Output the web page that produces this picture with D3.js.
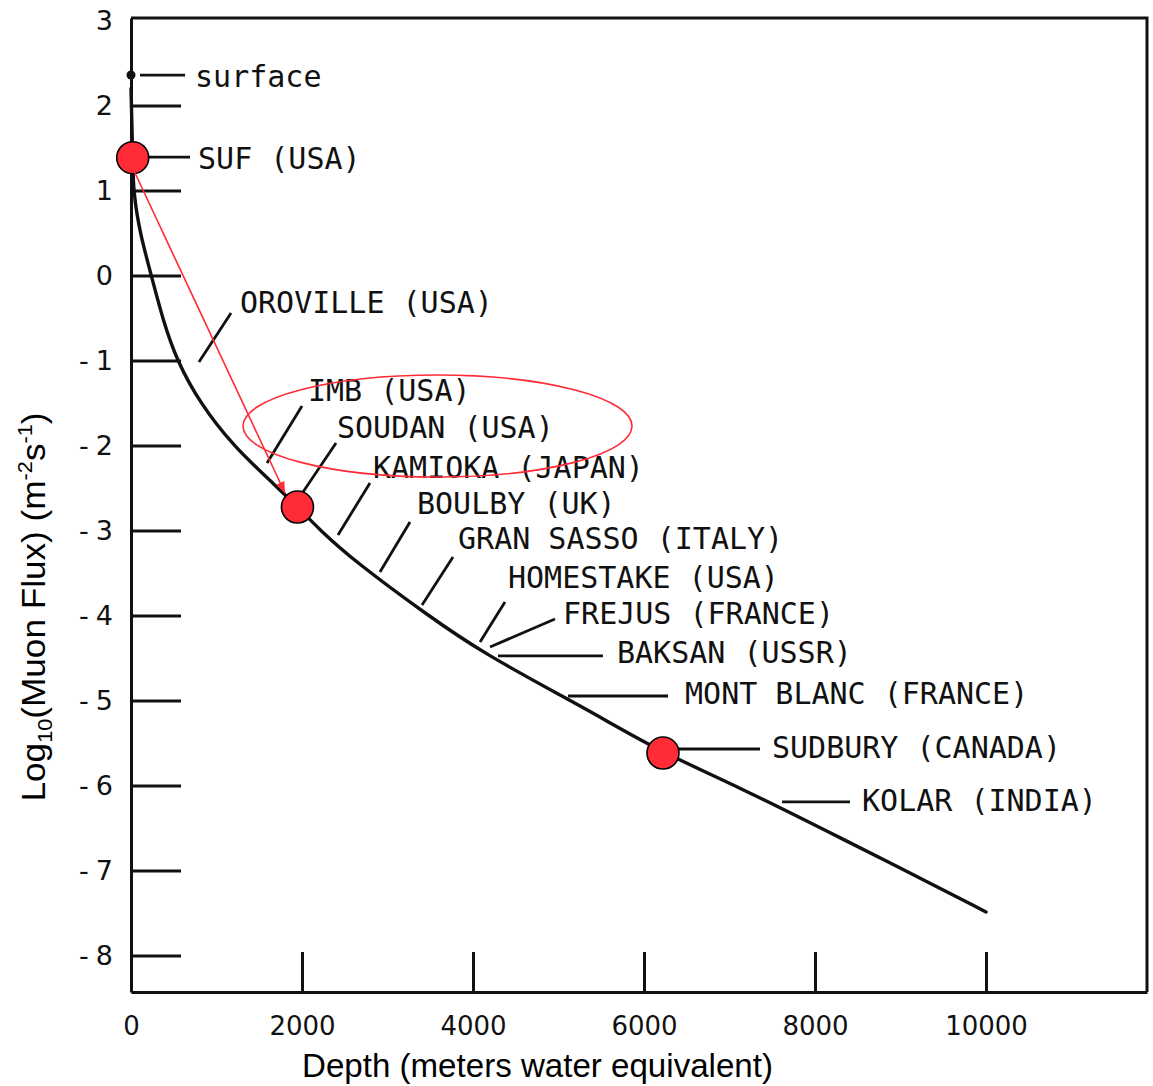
<!DOCTYPE html>
<html><head><meta charset="utf-8">
<script src="https://cdn.jsdelivr.net/npm/d3@7"></script>
<style>body{margin:0;background:#fff}</style>
</head><body>
<svg id="chart" width="1153" height="1086"></svg>
<script>
// ---- data (depth in metres water equivalent, log10 muon flux in m^-2 s^-1) ----
const curveDepth = [0, 10, 20, 27, 105, 246, 374, 538, 807, 1193, 1708, 1947, 2210, 2596, 3497, 4117, 5135, 5485, 6222, 7088, 8406, 9064, 10000];
const curveFlux  = [2.2, 1.8, 1.386, 0.982, 0.494, -0.03, -0.524, -1.006, -1.5, -2.006, -2.488, -2.724, -2.994, -3.347, -4.018, -4.441, -5.0, -5.194, -5.618, -6.006, -6.672, -7.006, -7.488];

const yTicks = [3, 2, 1, 0, -1, -2, -3, -4, -5, -6, -7, -8];
const xTicks = [0, 2000, 4000, 6000, 8000, 10000];

const siteNames = ["surface", "SUF (USA)", "OROVILLE (USA)", "IMB (USA)", "SOUDAN (USA)", "KAMIOKA (JAPAN)", "BOULBY (UK)", "GRAN SASSO (ITALY)", "HOMESTAKE (USA)", "FREJUS (FRANCE)", "BAKSAN (USSR)", "MONT BLANC (FRANCE)", "SUDBURY (CANADA)", "KOLAR (INDIA)"];
const labelDepth = [749, 784, 1275, 2070, 2409, 2830, 3345, 3825, 4409, 5053, 5684, 6480, 7497, 8550];
const labelFlux  = [2.218, 1.253, -0.441, -1.476, -1.912, -2.382, -2.806, -3.218, -3.676, -4.1, -4.559, -5.041, -5.676, -6.3];
const leaderFromDepth = [105, 105, 795, 1591, 2012, 2421, 2912, 3404, 4082, 4199, 4292, 5111, 6222, 7614];
const leaderFromFlux  = [2.359, 1.394, -1.018, -2.206, -2.547, -3.053, -3.488, -3.876, -4.312, -4.371, -4.476, -4.947, -5.571, -6.194];
const leaderToDepth   = [632, 690, 1170, 2000, 2398, 2795, 3263, 3766, 4374, 4959, 5520, 6281, 7357, 8409];
const leaderToFlux    = [2.359, 1.394, -0.441, -1.535, -1.971, -2.441, -2.9, -3.312, -3.841, -4.041, -4.476, -4.947, -5.571, -6.194];

const surfaceDepth = 0, surfaceFlux = 2.359;

const highlightNames = ["SUF (USA)", "SOUDAN (USA)", "SUDBURY (CANADA)"];
const highlightDepth = [20, 1947, 6222];
const highlightFlux  = [1.386, -2.724, -5.618];

// red annotation: arrow from SUF to SOUDAN, ellipse around IMB / SOUDAN labels
const arrowFrom = [47, 1.206];
const arrowTo   = [1801, -2.559];
const ellipseCenter = [3585, -1.771];
const ellipseRadius = [2275, 0.6]; // depth units, flux units

(function () {
  const svg = d3.select("#chart");
  const mLeft = 131, mRight = 1147, mTop = 18, mBottom = 992;

  const x = d3.scaleLinear().domain([0, 11883]).range([mLeft, mRight]);
  const y = d3.scaleLinear().domain([-8.43, 3.03]).range([mBottom, mTop]);

  const black = "#111";
  const red = "#ff2b36";

  // frame (top and right)
  svg.append("path")
    .attr("d", `M${mLeft},${mTop}H${mRight}V${mBottom}`)
    .attr("fill", "none").attr("stroke", black).attr("stroke-width", 3);

  // y axis
  const yAxis = d3.axisLeft(y).tickValues(yTicks).tickSizeInner(-50).tickSizeOuter(0).tickPadding(18)
    .tickFormat(d => d);
  const gy = svg.append("g").attr("transform", `translate(${mLeft},0)`).call(yAxis);
  gy.select(".domain").attr("stroke", black).attr("stroke-width", 3);
  gy.selectAll(".tick line").attr("stroke", black).attr("stroke-width", 3)
    .filter(d => d === 3).remove();
  gy.selectAll(".tick text")
    .attr("font-family", "DejaVu Sans").attr("font-size", 27).attr("fill", black)
    .each(function (d) {
      if (d < 0) {
        const t = d3.select(this);
        t.text("-");
        t.append("tspan").attr("dx", 7).text(String(-d));
      }
    });

  // x axis
  const xAxis = d3.axisBottom(x).tickValues(xTicks).tickSizeInner(-40).tickSizeOuter(0).tickPadding(25)
    .tickFormat(d => d);
  const gx = svg.append("g").attr("transform", `translate(0,${mBottom})`).call(xAxis);
  gx.select(".domain").attr("stroke", black).attr("stroke-width", 3);
  gx.selectAll(".tick line").attr("stroke", black).attr("stroke-width", 3)
    .filter(d => d === 0).remove();
  gx.selectAll(".tick text")
    .attr("font-family", "DejaVu Sans").attr("font-size", 26).attr("fill", black);

  // axis titles
  svg.append("text")
    .attr("x", (302 + 773) / 2).attr("y", 1077)
    .attr("text-anchor", "middle")
    .attr("font-family", "Liberation Sans, Arial, sans-serif").attr("font-size", 34)
    .attr("textLength", 471).attr("lengthAdjust", "spacingAndGlyphs")
    .attr("fill", "#000")
    .text("Depth (meters water equivalent)");

  const yt = svg.append("text")
    .attr("transform", "translate(45,607) rotate(-90)")
    .attr("text-anchor", "middle")
    .attr("font-family", "Liberation Sans, Arial, sans-serif").attr("font-size", 34)
    .attr("fill", "#000");
  yt.append("tspan").text("Log");
  yt.append("tspan").attr("font-size", 21).attr("dy", 7).text("10");
  yt.append("tspan").attr("dy", -7).text("(Muon Flux) (m");
  yt.append("tspan").attr("font-size", 21).attr("dy", -13).text("-2");
  yt.append("tspan").attr("dy", 13).text("s");
  yt.append("tspan").attr("font-size", 21).attr("dy", -13).text("-1");
  yt.append("tspan").attr("dy", 13).text(")");
  yt.attr("textLength", 389).attr("lengthAdjust", "spacingAndGlyphs");

  // depth-intensity curve
  const curveData = curveDepth.map((d, i) => ({ depth: d, flux: curveFlux[i] }));
  const line = d3.line().x(d => x(d.depth)).y(d => y(d.flux)).curve(d3.curveBasis);
  svg.append("path").datum(curveData)
    .attr("d", line)
    .attr("fill", "none").attr("stroke", black).attr("stroke-width", 3.4)
    .attr("stroke-linecap", "round").attr("stroke-linejoin", "round");

  // leader lines
  const sites = siteNames.map((n, i) => ({
    name: n, tx: labelDepth[i], ty: labelFlux[i],
    x1: leaderFromDepth[i], y1: leaderFromFlux[i], x2: leaderToDepth[i], y2: leaderToFlux[i]
  }));
  svg.append("g").selectAll("line").data(sites).join("line")
    .attr("x1", d => x(d.x1)).attr("y1", d => y(d.y1))
    .attr("x2", d => x(d.x2)).attr("y2", d => y(d.y2))
    .attr("stroke", black).attr("stroke-width", 2.8);

  // surface marker
  svg.append("circle").attr("cx", x(surfaceDepth)).attr("cy", y(surfaceFlux)).attr("r", 4.5).attr("fill", black);

  // site labels
  svg.append("g").selectAll("text").data(sites).join("text")
    .attr("x", d => x(d.tx)).attr("y", d => y(d.ty))
    .attr("font-family", "DejaVu Sans Mono").attr("font-size", 30).attr("fill", "#111")
    .text(d => d.name);

  // red ellipse
  svg.append("ellipse")
    .attr("cx", x(ellipseCenter[0])).attr("cy", y(ellipseCenter[1]))
    .attr("rx", x(ellipseCenter[0] + ellipseRadius[0]) - x(ellipseCenter[0]))
    .attr("ry", y(ellipseCenter[1] - ellipseRadius[1]) - y(ellipseCenter[1]))
    .attr("fill", "none").attr("stroke", red).attr("stroke-width", 1.6);

  // highlighted sites (red dots)
  const hl = highlightNames.map((n, i) => ({ name: n, depth: highlightDepth[i], flux: highlightFlux[i] }));
  svg.append("g").selectAll("circle").data(hl).join("circle")
    .attr("cx", d => x(d.depth)).attr("cy", d => y(d.flux)).attr("r", 16)
    .attr("fill", red).attr("stroke", "#000").attr("stroke-width", 1.6);

  // red arrow
  svg.append("defs").append("marker")
    .attr("id", "arrowhead").attr("viewBox", "0 0 10 10")
    .attr("refX", 10).attr("refY", 5)
    .attr("markerWidth", 7).attr("markerHeight", 7)
    .attr("markerUnits", "strokeWidth")
    .attr("orient", "auto")
    .append("path").attr("d", "M0,1 L10,5 L0,9 Z").attr("fill", red);
  svg.append("line")
    .attr("x1", x(arrowFrom[0])).attr("y1", y(arrowFrom[1]))
    .attr("x2", x(arrowTo[0])).attr("y2", y(arrowTo[1]))
    .attr("stroke", red).attr("stroke-width", 1.6)
    .attr("marker-end", "url(#arrowhead)");
})();
</script>
</body></html>
